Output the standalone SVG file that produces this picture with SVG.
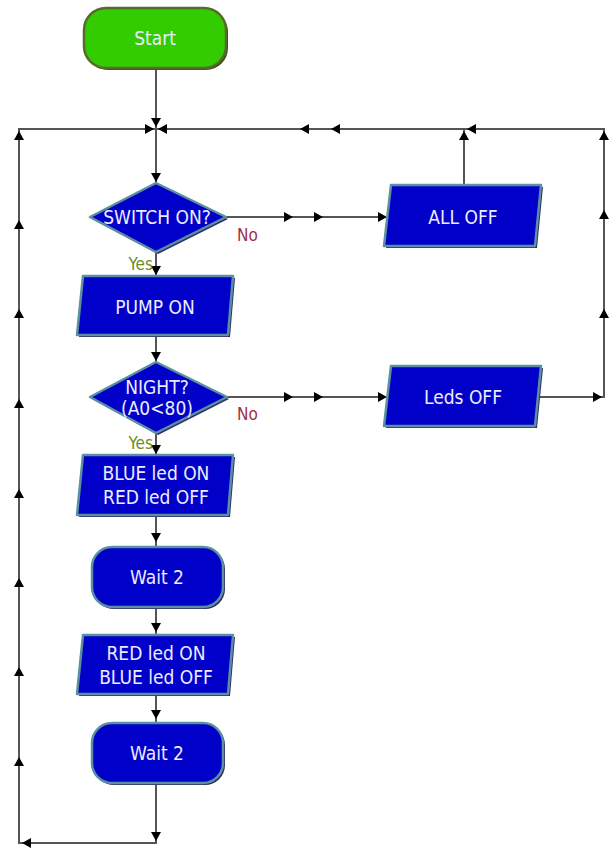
<svg xmlns="http://www.w3.org/2000/svg" xmlns:xlink="http://www.w3.org/1999/xlink" width="612" height="848" viewBox="0 0 612 848">
<style>
.ln{fill:none;stroke:#555;stroke-width:2}
.ah{fill:#000}
.sh{fill:#2e2e66}
.bx{fill:#0000c8;stroke:#5b8fa2;stroke-width:2.5;stroke-linejoin:round}
.st{fill:#33cc00;stroke:#566b2c;stroke-width:2.5}
.t{font-family:"DejaVu Sans Condensed","DejaVu Sans",sans-serif;font-size:19px;fill:#ececff;text-anchor:middle}
.no{font-family:"DejaVu Sans Condensed","DejaVu Sans",sans-serif;font-size:17px;fill:#a0304a}
.yes{font-family:"DejaVu Sans Condensed","DejaVu Sans",sans-serif;font-size:17px;fill:#6b8e23;text-anchor:end}
</style>
<defs>
<path id="ah" d="M0,0 L-9,-5 L-9,5 z"/>
</defs>
<g id="connectors">
<path class="ln" d="M156 68 V129"/>
<path class="ln" d="M156 129 V183"/>
<path class="ln" d="M156 252 V276"/>
<path class="ln" d="M156 335 V362"/>
<path class="ln" d="M156 433 V455"/>
<path class="ln" d="M156 515 V547"/>
<path class="ln" d="M156 607 V635"/>
<path class="ln" d="M156 694 V723"/>
<path class="ln" d="M156 783 V843 H19 V129 H156"/>
<path class="ln" d="M226 217 H385"/>
<path class="ln" d="M464 185 V129 H156"/>
<path class="ln" d="M227 397 H385"/>
<path class="ln" d="M540 397 H604 V129 H464"/>
<g class="ah">
<use xlink:href="#ah" transform="translate(156,127) rotate(90)"/>
<use xlink:href="#ah" transform="translate(154,129)"/>
<use xlink:href="#ah" transform="translate(158,129) rotate(180)"/>
<use xlink:href="#ah" transform="translate(156,182) rotate(90)"/>
<use xlink:href="#ah" transform="translate(156,275) rotate(90)"/>
<use xlink:href="#ah" transform="translate(156,361) rotate(90)"/>
<use xlink:href="#ah" transform="translate(156,454) rotate(90)"/>
<use xlink:href="#ah" transform="translate(156,542) rotate(90)"/>
<use xlink:href="#ah" transform="translate(156,632) rotate(90)"/>
<use xlink:href="#ah" transform="translate(156,719) rotate(90)"/>
<use xlink:href="#ah" transform="translate(156,841) rotate(90)"/>
<use xlink:href="#ah" transform="translate(22,843) rotate(180)"/>
<use xlink:href="#ah" transform="translate(19,757) rotate(-90)"/>
<use xlink:href="#ah" transform="translate(19,667) rotate(-90)"/>
<use xlink:href="#ah" transform="translate(19,578) rotate(-90)"/>
<use xlink:href="#ah" transform="translate(19,489) rotate(-90)"/>
<use xlink:href="#ah" transform="translate(19,399) rotate(-90)"/>
<use xlink:href="#ah" transform="translate(19,309) rotate(-90)"/>
<use xlink:href="#ah" transform="translate(19,220) rotate(-90)"/>
<use xlink:href="#ah" transform="translate(19,131) rotate(-90)"/>
<use xlink:href="#ah" transform="translate(293,217)"/>
<use xlink:href="#ah" transform="translate(323,217)"/>
<use xlink:href="#ah" transform="translate(387,217)"/>
<use xlink:href="#ah" transform="translate(293,397)"/>
<use xlink:href="#ah" transform="translate(323,397)"/>
<use xlink:href="#ah" transform="translate(387,397)"/>
<use xlink:href="#ah" transform="translate(464,131) rotate(-90)"/>
<use xlink:href="#ah" transform="translate(467,129) rotate(180)"/>
<use xlink:href="#ah" transform="translate(331,129) rotate(180)"/>
<use xlink:href="#ah" transform="translate(300,129) rotate(180)"/>
<use xlink:href="#ah" transform="translate(602,397)"/>
<use xlink:href="#ah" transform="translate(604,309) rotate(-90)"/>
<use xlink:href="#ah" transform="translate(604,210) rotate(-90)"/>
<use xlink:href="#ah" transform="translate(604,131) rotate(-90)"/>
</g>
</g>
<g id="start">
<rect x="86" y="10" width="142" height="60" rx="22" fill="#3a4a1a"/>
<rect class="st" x="84" y="8" width="142" height="60" rx="22"/>
<text class="t" x="155" y="45">Start</text>
</g>
<g id="switch">
<polygon class="sh" points="92,219 158,185 228,219 158,254"/>
<polygon class="bx" points="90,217 156,183 226,217 156,252"/>
<text class="t" x="157" y="224">SWITCH ON?</text>
</g>
<g id="alloff">
<polygon class="sh" points="393,187 543,187 537,248 386,248"/>
<polygon class="bx" points="391,185 541,185 535,246 384,246"/>
<text class="t" x="463" y="224">ALL OFF</text>
</g>
<g id="pump">
<polygon class="sh" points="85,278 235,278 230,337 79,337"/>
<polygon class="bx" points="83,276 233,276 228,335 77,335"/>
<text class="t" x="155" y="314">PUMP ON</text>
</g>
<g id="night">
<polygon class="sh" points="92,399 158,364 229,399 158,435"/>
<polygon class="bx" points="90,397 156,362 227,397 156,433"/>
<text class="t" x="157" y="394">NIGHT?</text>
<text class="t" x="157" y="415">(A0&lt;80)</text>
</g>
<g id="ledsoff">
<polygon class="sh" points="393,368 543,368 537,428 386,428"/>
<polygon class="bx" points="391,366 541,366 535,426 384,426"/>
<text class="t" x="463" y="404">Leds OFF</text>
</g>
<g id="blue">
<polygon class="sh" points="85,457 235,457 230,517 79,517"/>
<polygon class="bx" points="83,455 233,455 228,515 77,515"/>
<text class="t" x="156" y="480">BLUE led ON</text>
<text class="t" x="156" y="504">RED led OFF</text>
</g>
<g id="wait1">
<rect class="sh" x="94" y="549" width="131" height="60" rx="20"/>
<rect class="bx" x="92" y="547" width="131" height="60" rx="20"/>
<text class="t" x="157" y="584">Wait 2</text>
</g>
<g id="red">
<polygon class="sh" points="85,637 235,637 230,696 79,696"/>
<polygon class="bx" points="83,635 233,635 228,694 77,694"/>
<text class="t" x="156" y="660">RED led ON</text>
<text class="t" x="156" y="684">BLUE led OFF</text>
</g>
<g id="wait2">
<rect class="sh" x="94" y="725" width="131" height="60" rx="20"/>
<rect class="bx" x="92" y="723" width="131" height="60" rx="20"/>
<text class="t" x="157" y="760">Wait 2</text>
</g>
<g id="labels">
<text class="no" x="237" y="241">No</text>
<text class="yes" x="153" y="270">Yes</text>
<text class="no" x="237" y="420">No</text>
<text class="yes" x="153" y="449">Yes</text>
</g>
</svg>
